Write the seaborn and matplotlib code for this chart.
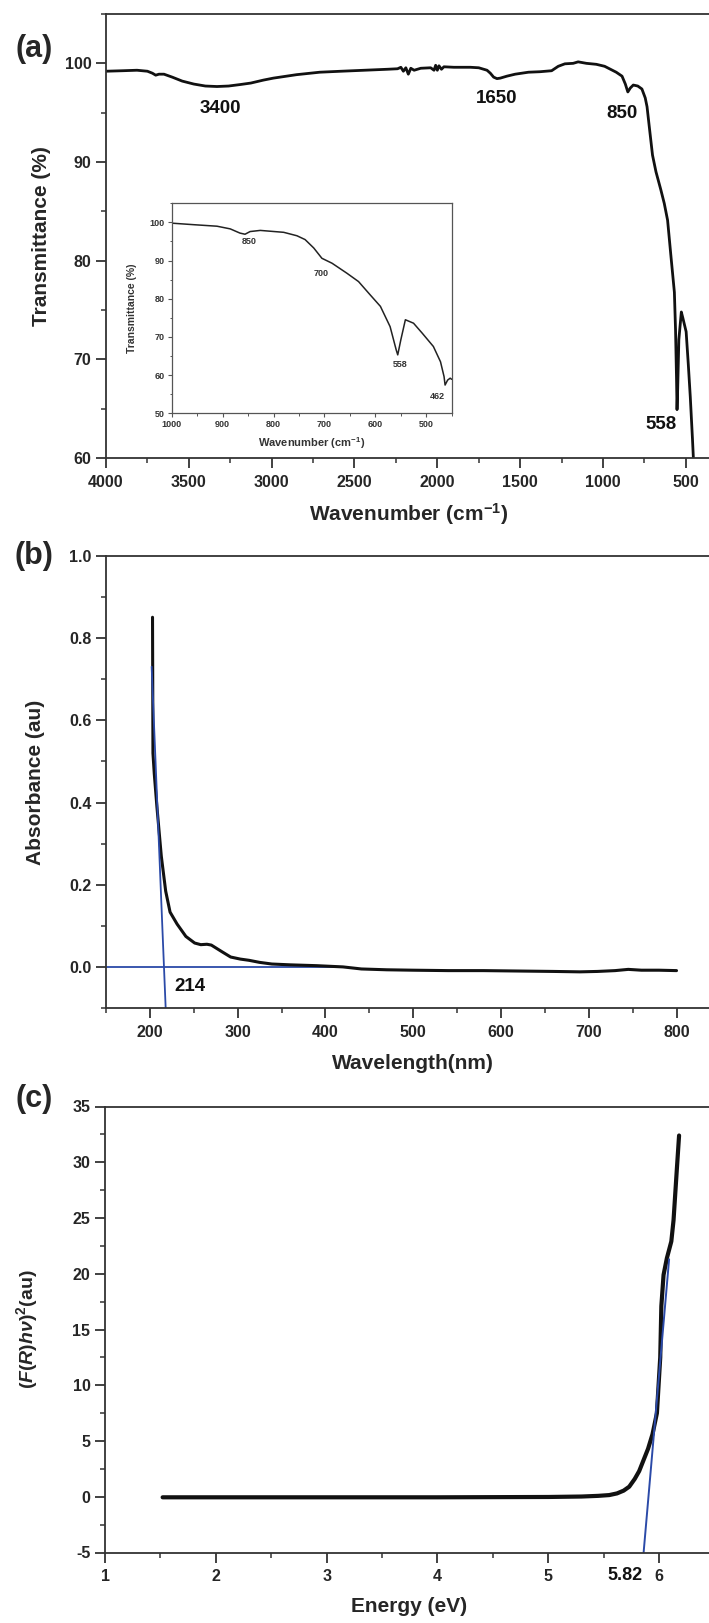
import matplotlib
matplotlib.use("Agg")
import matplotlib.pyplot as plt
import seaborn as sns
from matplotlib.ticker import MultipleLocator, FormatStrFormatter

# (a) espectro FTIR
ir_wn = [4000, 3900, 3813, 3750, 3720, 3700, 3680, 3650, 3600, 3540, 3470, 3400,
         3330, 3260, 3190, 3126, 3050, 2990, 2850, 2710, 2580, 2440, 2300, 2240,
         2220, 2205, 2190, 2175, 2160, 2140, 2100, 2040, 2020, 2010, 2000, 1990,
         1975, 1960, 1900, 1800, 1750, 1700, 1680, 1660, 1640, 1620, 1580, 1530,
         1450, 1380, 1310, 1270, 1230, 1180, 1150, 1100, 1040, 990, 955, 920,
         885, 865, 850, 835, 817, 790, 765, 745, 734, 720, 701, 680, 651, 630,
         610, 590, 569, 562, 556, 553, 549, 542, 527, 518, 508, 498, 485, 473,
         460, 450]
ir_t = [99.2, 99.25, 99.3, 99.2, 99.0, 98.8, 98.9, 98.9, 98.6, 98.2, 97.9, 97.7,
        97.65, 97.7, 97.85, 98.0, 98.3, 98.5, 98.85, 99.1, 99.2, 99.3, 99.4, 99.45,
        99.6, 99.2, 99.55, 98.9, 99.5, 99.3, 99.5, 99.55, 99.3, 99.8, 99.3, 99.75,
        99.4, 99.65, 99.6, 99.6, 99.55, 99.3, 99.0, 98.6, 98.45, 98.5, 98.7, 98.9,
        99.1, 99.15, 99.25, 99.7, 99.95, 100.0, 100.15, 100.0, 99.9, 99.7, 99.4, 99.1,
        98.7, 97.9, 97.1, 97.5, 97.8, 97.7, 97.4, 96.5, 95.6, 93.5, 90.7, 89.0, 87.2, 85.8,
        84.1, 80.5, 76.8, 73.0, 68.0, 64.9, 67.0, 72.0, 74.8, 74.2, 73.5, 72.8, 69.5, 66.2,
        62.0, 58.5]
ir_etiquetas = ["3400", "1650", "850", "558"]
ir_etq_x = [3310, 1641, 885, 651]
ir_etq_y = [95.4, 96.45, 94.9, 63.4]

# recuadro (1000-450 cm-1)
ins_wn = [1000, 957, 911, 885, 866, 856, 846, 826, 780, 754, 738, 721, 705, 685,
          656, 633, 610, 590, 571, 559, 556, 550, 541, 525, 508, 486, 472, 465,
          463, 458, 453, 450]
ins_t = [99.8, 99.4, 99.0, 98.3, 97.2, 96.9, 97.6, 97.9, 97.4, 96.5, 95.5, 93.3,
         90.6, 89.3, 86.7, 84.5, 81.0, 78.0, 72.7, 66.6, 65.3, 69.2, 74.5, 73.6,
         71.0, 67.5, 63.5, 59.6, 57.4, 58.7, 59.2, 58.9]
ins_etiquetas = ["850", "700", "558", "462"]
ins_etq_x = [847, 707, 551, 479]
ins_etq_y = [95.0, 86.5, 62.8, 54.5]

# (b) UV-Vis
uv_wl = [203, 203.5, 205, 208, 213, 218, 223, 231, 241, 251, 258, 265, 270, 276,
         282, 292, 303, 313, 325, 339, 360, 390, 420, 441, 470, 500, 540, 580,
         620, 660, 690, 710, 730, 745, 760, 780, 800]
uv_abs = [0.85, 0.52, 0.47, 0.39, 0.27, 0.185, 0.134, 0.105, 0.075, 0.059, 0.055,
          0.056, 0.054, 0.046, 0.038, 0.025, 0.020, 0.017, 0.012, 0.008, 0.006,
          0.004, 0.001, -0.004, -0.006, -0.007, -0.008, -0.008, -0.009, -0.010,
          -0.011, -0.010, -0.008, -0.005, -0.007, -0.007, -0.008]
uv_tan_wl = [202, 218]
uv_tan_abs = [0.73, -0.1]
uv_base_wl = [150, 420]
uv_base_abs = [0.0, 0.0]

# (c) Kubelka-Munk
km_e = [1.52, 2.0, 3.0, 4.0, 5.0, 5.3, 5.45, 5.55, 5.62, 5.68, 5.73, 5.78, 5.82,
        5.86, 5.9, 5.94, 5.98, 6.01, 6.02, 6.04, 6.07, 6.11, 6.13, 6.16, 6.18]
km_f = [-0.05, -0.05, -0.05, -0.05, -0.02, 0.02, 0.08, 0.15, 0.3, 0.55, 0.9, 1.6,
        2.3, 3.3, 4.3, 5.6, 7.5, 12.5, 17.1, 19.9, 21.4, 22.9, 24.8, 29.4, 32.4]
km_tan_e = [5.86, 6.09]
km_tan_f = [-5, 21.3]

NEGRO = "#111111"
AZUL = "#2b4aa8"
EJE = "#333333"

sns.set_style("ticks")
plt.rcParams["font.family"] = ["Liberation Sans", "DejaVu Sans"]
plt.rcParams["font.weight"] = "bold"
plt.rcParams["axes.labelweight"] = "bold"
plt.rcParams["axes.unicode_minus"] = False
plt.rcParams["mathtext.default"] = "regular"
plt.rcParams["mathtext.fontset"] = "custom"
plt.rcParams["mathtext.it"] = "Liberation Sans:italic:bold"
plt.rcParams["mathtext.rm"] = "Liberation Sans:bold"

W, H = 709, 1623
fig = plt.figure(figsize=(W / 100, H / 100), dpi=100)


def caja(l, t, r, b):
    return [l / W, 1 - b / H, (r - l) / W, (b - t) / H]


def estilo(ax, lw=1.3, size=11.5, largo=7):
    ax.spines["right"].set_visible(False)
    for s in ["left", "bottom", "top"]:
        ax.spines[s].set_linewidth(lw)
        ax.spines[s].set_color(EJE)
    ax.tick_params(which="major", direction="out", length=largo, width=lw,
                   labelsize=size, color=EJE, top=False, right=False)
    ax.tick_params(which="minor", direction="out", length=largo * 0.55, width=lw * 0.85,
                   color=EJE, top=False, right=False)
    ax.tick_params(axis="x", which="major", pad=5)
    ax.tick_params(axis="y", which="major", pad=3.5)


# ---------------- (a) ----------------
ax_a = fig.add_axes(caja(106, 14, 709, 458))
sns.lineplot(x=ir_wn, y=ir_t, sort=False, estimator=None, color=NEGRO, lw=2.0, ax=ax_a)
ax_a.set_xlim(4000, 360)
ax_a.set_ylim(60, 105)
ax_a.xaxis.set_major_locator(MultipleLocator(500))
ax_a.xaxis.set_minor_locator(MultipleLocator(250))
ax_a.yaxis.set_major_locator(MultipleLocator(10))
ax_a.yaxis.set_minor_locator(MultipleLocator(5))
estilo(ax_a)
ax_a.set_xlabel("Wavenumber (cm$^{-1}$)", fontsize=15)
ax_a.set_ylabel("Transmittance (%)", fontsize=15)
ax_a.xaxis.set_label_coords(0.5025, -0.098)
ax_a.yaxis.set_label_coords(-0.092, 0.5)
for txt, x, y in zip(ir_etiquetas, ir_etq_x, ir_etq_y):
    ax_a.text(x, y, txt, fontsize=13.5, ha="center", va="center", color=NEGRO)

# recuadro
ax_i = fig.add_axes(caja(171.7, 203.3, 451.7, 413.3))
sns.lineplot(x=ins_wn, y=ins_t, sort=False, estimator=None, color="#222222", lw=1.1, ax=ax_i)
ax_i.set_xlim(1000, 450)
ax_i.set_ylim(50, 105)
ax_i.xaxis.set_major_locator(MultipleLocator(100))
ax_i.xaxis.set_minor_locator(MultipleLocator(50))
ax_i.yaxis.set_major_locator(MultipleLocator(10))
ax_i.yaxis.set_minor_locator(MultipleLocator(5))
for s in ax_i.spines.values():
    s.set_linewidth(0.9)
    s.set_color("#555555")
ax_i.tick_params(which="major", direction="out", length=3, width=0.8, labelsize=6.5,
                 pad=2, color="#555555", labelcolor="#333333")
ax_i.tick_params(which="minor", direction="out", length=1.8, width=0.7, color="#555555")
ax_i.set_xlabel("Wavenumber (cm$^{-1}$)", fontsize=8, color="#333333")
ax_i.set_ylabel("Transmittance (%)", fontsize=7.5, color="#333333")
ax_i.xaxis.set_label_coords(0.5, -0.105)
ax_i.yaxis.set_label_coords(-0.125, 0.5)
for txt, x, y in zip(ins_etiquetas, ins_etq_x, ins_etq_y):
    ax_i.text(x, y, txt, fontsize=6.5, ha="center", va="center", color="#333333")

# ---------------- (b) ----------------
ax_b = fig.add_axes(caja(106, 555.5, 709, 1008.5))
sns.lineplot(x=uv_base_wl, y=uv_base_abs, sort=False, estimator=None, color=AZUL, lw=1.3, ax=ax_b)
sns.lineplot(x=uv_wl, y=uv_abs, sort=False, estimator=None, color=NEGRO, lw=2.2, ax=ax_b)
sns.lineplot(x=uv_tan_wl, y=uv_tan_abs, sort=False, estimator=None, color=AZUL, lw=1.3, ax=ax_b)
ax_b.set_xlim(150, 837)
ax_b.set_ylim(-0.1, 1.0)
ax_b.xaxis.set_major_locator(MultipleLocator(100))
ax_b.xaxis.set_minor_locator(MultipleLocator(50))
ax_b.yaxis.set_major_locator(MultipleLocator(0.2))
ax_b.yaxis.set_minor_locator(MultipleLocator(0.1))
ax_b.yaxis.set_major_formatter(FormatStrFormatter("%.1f"))
estilo(ax_b)
ax_b.set_xlabel("Wavelength(nm)", fontsize=15)
ax_b.set_ylabel("Absorbance (au)", fontsize=15)
ax_b.xaxis.set_label_coords(0.509, -0.1)
ax_b.yaxis.set_label_coords(-0.101, 0.5)
ax_b.text(246, -0.046, "214", fontsize=13.5, ha="center", va="center", color=NEGRO)

# ---------------- (c) ----------------
ax_c = fig.add_axes(caja(105, 1106.5, 709, 1552.5))
sns.lineplot(x=km_e, y=km_f, sort=False, estimator=None, color=NEGRO, lw=3.0, ax=ax_c)
sns.lineplot(x=km_tan_e, y=km_tan_f, sort=False, estimator=None, color=AZUL, lw=1.4, ax=ax_c)
ax_c.set_xlim(1, 6.45)
ax_c.set_ylim(-5, 35)
ax_c.xaxis.set_major_locator(MultipleLocator(1))
ax_c.xaxis.set_minor_locator(MultipleLocator(0.5))
ax_c.yaxis.set_major_locator(MultipleLocator(5))
ax_c.yaxis.set_minor_locator(MultipleLocator(2.5))
estilo(ax_c)
ax_c.set_xlabel("Energy (eV)", fontsize=15)
ax_c.set_ylabel(r"$\mathit{(F(R)h\nu)}^{2}$(au)", fontsize=14)
ax_c.xaxis.set_label_coords(0.503, -0.1)
ax_c.yaxis.set_label_coords(-0.108, 0.5)
ax_c.annotate("5.82", xy=(5.69, 0), xycoords=("data", "axes fraction"),
              xytext=(0, -22.5), textcoords="offset pixels",
              fontsize=13, ha="center", va="center", color=NEGRO)

# letras de panel
fig.text(34 / W, 1 - 49 / H, "(a)", fontsize=22, ha="center", va="center")
fig.text(34 / W, 1 - 556 / H, "(b)", fontsize=22, ha="center", va="center")
fig.text(34 / W, 1 - 1099 / H, "(c)", fontsize=22, ha="center", va="center")

fig.savefig("out.png", dpi=100)
